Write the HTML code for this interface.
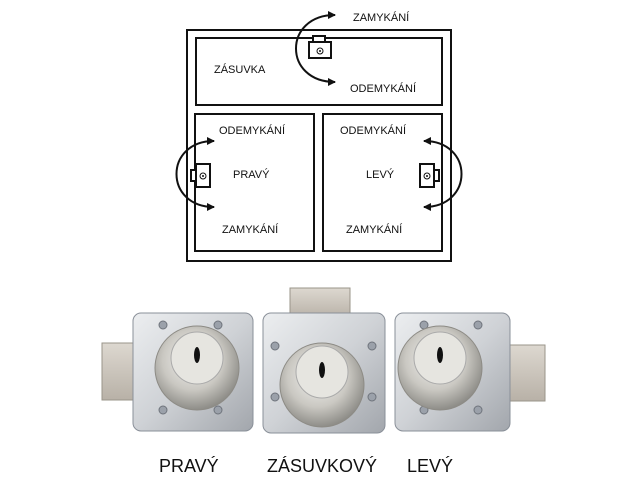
<!DOCTYPE html>
<html><head><meta charset="utf-8"><style>
body{margin:0;background:#fff;width:624px;height:482px;overflow:hidden}
svg{display:block}
text{font-family:"Liberation Sans",sans-serif;fill:#111}
</style></head><body>
<svg width="624" height="482" viewBox="0 0 624 482">
<defs>
<marker id="ah" markerWidth="8" markerHeight="8" refX="7" refY="4" orient="auto-start-reverse" markerUnits="userSpaceOnUse"><path d="M0,0 L8,4 L0,8 z" fill="#111"/></marker>
<linearGradient id="met" x1="0" y1="0" x2="1" y2="1"><stop offset="0" stop-color="#eceef0"/><stop offset="0.5" stop-color="#cfd2d6"/><stop offset="1" stop-color="#a2a6ac"/></linearGradient>
<linearGradient id="bolt" x1="0" y1="0" x2="0" y2="1"><stop offset="0" stop-color="#ddd8d0"/><stop offset="1" stop-color="#b8b1a7"/></linearGradient>
<radialGradient id="cyl" cx="0.45" cy="0.4" r="0.6"><stop offset="0" stop-color="#f4f4f2"/><stop offset="0.6" stop-color="#cac8c2"/><stop offset="1" stop-color="#8e8d88"/></radialGradient>
</defs>
<g fill="none" stroke="#111" stroke-width="2">
<rect x="187" y="30" width="264" height="231"/>
<rect x="196" y="38" width="246" height="67"/>
<rect x="195" y="114" width="119" height="137"/>
<rect x="323" y="114" width="119" height="137"/>
<rect x="313" y="36" width="12" height="6" fill="#fff"/>
<rect x="309" y="42" width="22" height="16" fill="#fff"/>
<rect x="191" y="170" width="5" height="11" fill="#fff"/>
<rect x="196" y="164" width="14" height="23" fill="#fff"/>
<rect x="434" y="170" width="5" height="11" fill="#fff"/>
<rect x="420" y="164" width="14" height="23" fill="#fff"/>
<path d="M335,15 C283,15 283,82 335,82" marker-start="url(#ah)" marker-end="url(#ah)"/>
<path d="M214,141 C164,141 164,207 214,207" marker-start="url(#ah)" marker-end="url(#ah)"/>
<path d="M424,141 C474,141 474,207 424,207" marker-start="url(#ah)" marker-end="url(#ah)"/>
</g>
<g stroke="#111" stroke-width="1" fill="none">
<circle cx="320" cy="51" r="3"/><circle cx="203" cy="176" r="3"/><circle cx="427" cy="176" r="3"/>
</g>
<g fill="#111"><circle cx="320" cy="51" r="1"/><circle cx="203" cy="176" r="1"/><circle cx="427" cy="176" r="1"/></g>
<g font-size="11">
<text x="353" y="21">ZAMYKÁNÍ</text>
<text x="350" y="92">ODEMYKÁNÍ</text>
<text x="214" y="73">ZÁSUVKA</text>
<text x="219" y="134">ODEMYKÁNÍ</text>
<text x="233" y="178">PRAVÝ</text>
<text x="222" y="233">ZAMYKÁNÍ</text>
<text x="340" y="134">ODEMYKÁNÍ</text>
<text x="366" y="178">LEVÝ</text>
<text x="346" y="233">ZAMYKÁNÍ</text>
</g>
<rect x="102" y="343" width="36" height="57" fill="url(#bolt)" stroke="#9a948a"/>
<rect x="133" y="313" width="120" height="118" rx="8" fill="url(#met)" stroke="#8a9099"/>
<rect x="290" y="288" width="60" height="30" fill="url(#bolt)" stroke="#9a948a"/>
<rect x="263" y="313" width="122" height="120" rx="8" fill="url(#met)" stroke="#8a9099"/>
<rect x="505" y="345" width="40" height="56" fill="url(#bolt)" stroke="#9a948a"/>
<rect x="395" y="313" width="115" height="118" rx="8" fill="url(#met)" stroke="#8a9099"/>
<g fill="#9ba1aa" stroke="#6f747c">
<circle cx="163" cy="325" r="4"/><circle cx="218" cy="325" r="4"/><circle cx="163" cy="410" r="4"/><circle cx="218" cy="410" r="4"/>
<circle cx="275" cy="346" r="4"/><circle cx="372" cy="346" r="4"/><circle cx="275" cy="397" r="4"/><circle cx="372" cy="397" r="4"/>
<circle cx="424" cy="325" r="4"/><circle cx="478" cy="325" r="4"/><circle cx="424" cy="410" r="4"/><circle cx="478" cy="410" r="4"/>
</g>
<circle cx="197" cy="368" r="42" fill="url(#cyl)" stroke="#8d8b85"/>
<circle cx="197" cy="358" r="26" fill="#e6e5e0" stroke="#aaa"/>
<circle cx="322" cy="385" r="42" fill="url(#cyl)" stroke="#8d8b85"/>
<circle cx="322" cy="372" r="26" fill="#e6e5e0" stroke="#aaa"/>
<circle cx="440" cy="368" r="42" fill="url(#cyl)" stroke="#8d8b85"/>
<circle cx="440" cy="358" r="26" fill="#e6e5e0" stroke="#aaa"/>
<g fill="#111"><ellipse cx="197" cy="355" rx="3" ry="8"/><ellipse cx="322" cy="370" rx="3" ry="8"/><ellipse cx="440" cy="355" rx="3" ry="8"/></g>
<g font-size="18">
<text x="159" y="472">PRAVÝ</text>
<text x="267" y="472">ZÁSUVKOVÝ</text>
<text x="407" y="472">LEVÝ</text>
</g>
</svg>
</body></html>
